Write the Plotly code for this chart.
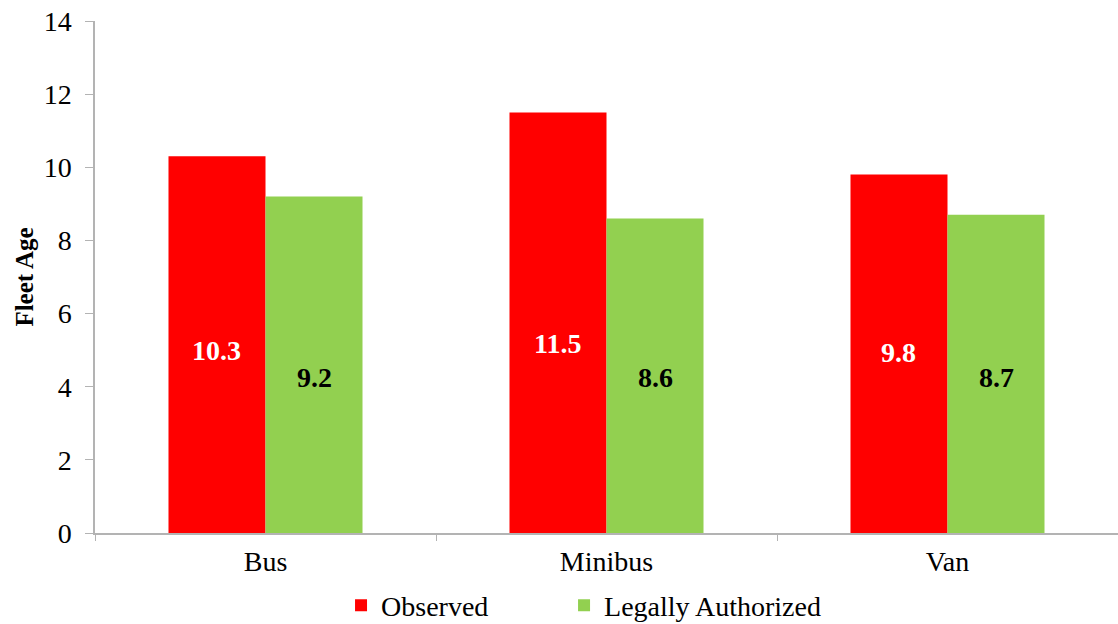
import plotly.graph_objects as go

# Fleet age by vehicle type
categories = ["Bus", "Minibus", "Van"]
observed = [10.3, 11.5, 9.8]
legally_authorized = [9.2, 8.6, 8.7]
y_ticks = [0, 2, 4, 6, 8, 10, 12, 14]

RED = "#FF0000"
GREEN = "#92D050"
FONT = "Liberation Serif"
AXIS = "#B3B3B3"

# heights (in axis units) at which the value labels sit inside the bars
obs_label_y = [5.0, 5.19, 4.94]
auth_label_y = [4.26, 4.26, 4.26]

fig = go.Figure()
fig.add_trace(go.Bar(x=categories, y=observed, name="Observed", legend="legend",
                     marker=dict(color=RED, line=dict(width=0))))
fig.add_trace(go.Bar(x=categories, y=legally_authorized, name="Legally Authorized",
                     legend="legend2", marker=dict(color=GREEN, line=dict(width=0))))

annotations = []
for i, cat in enumerate(categories):
    annotations.append(dict(x=i - 0.1425, y=obs_label_y[i], xref="x", yref="y",
                            text=f"<b>{observed[i]:.1f}</b>", showarrow=False,
                            font=dict(family=FONT, size=28, color="white"),
                            xanchor="center", yanchor="middle"))
    annotations.append(dict(x=i + 0.1425, y=auth_label_y[i], xref="x", yref="y",
                            text=f"<b>{legally_authorized[i]:.1f}</b>", showarrow=False,
                            font=dict(family=FONT, size=28, color="black"),
                            xanchor="center", yanchor="middle"))

legend_style = dict(orientation="h", xanchor="left", y=-0.093, yanchor="top",
                    font=dict(family=FONT, size=28, color="black"),
                    bgcolor="rgba(0,0,0,0)")

fig.update_layout(
    width=1118, height=624,
    margin=dict(l=95, r=0, t=21, b=91, autoexpand=False),
    paper_bgcolor="white", plot_bgcolor="white",
    barmode="group", bargap=0.431, bargroupgap=0,
    font=dict(family=FONT, size=28, color="black"),
    showlegend=True,
    legend=dict(x=0.2405, **legend_style),
    legend2=dict(x=0.4585, **legend_style),
    annotations=annotations,
    xaxis=dict(showline=True, linecolor=AXIS, linewidth=1.5,
               ticks="outside", tickson="boundaries", ticklen=6, tickcolor=AXIS,
               ticklabelstandoff=3,
               tickfont=dict(family=FONT, size=28), showgrid=False, zeroline=False),
    yaxis=dict(range=[0, 14], tickvals=y_ticks, showline=True, linecolor=AXIS,
               linewidth=1.5, ticks="outside", ticklen=8, tickcolor=AXIS,
               ticklabelstandoff=8,
               tickfont=dict(family=FONT, size=28), showgrid=False, zeroline=False,
               title=dict(text="<b>Fleet Age</b>", font=dict(family=FONT, size=25),
                          standoff=3)),
)

fig.write_html("out.html")
